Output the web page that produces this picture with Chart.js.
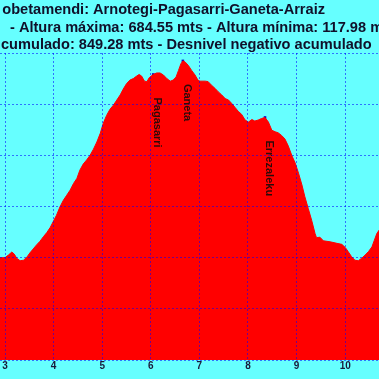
<!DOCTYPE html>
<html><head><meta charset="utf-8">
<script src="https://cdn.jsdelivr.net/npm/chart.js@4.4.0/dist/chart.umd.min.js"></script>
<style>html,body{margin:0;padding:0;background:#66ffff;overflow:hidden}#wrap{position:relative;width:379px;height:379px}</style>
</head><body><div id="wrap"><canvas id="c" width="379" height="379"></canvas></div>
<script>
// profile: distance (km) and elevation (m)
const distKm = [2.88,2.90,3.00,3.07,3.14,3.19,3.24,3.31,3.38,3.45,3.51,3.58,3.65,3.72,3.79,3.86,3.93,3.99,4.06,4.13,4.20,4.27,4.34,4.41,4.48,4.54,4.61,4.68,4.75,4.82,4.89,4.96,5.02,5.09,5.16,5.23,5.30,5.37,5.43,5.50,5.57,5.64,5.71,5.76,5.81,5.87,5.92,5.97,6.05,6.12,6.19,6.26,6.33,6.40,6.46,6.52,6.57,6.62,6.66,6.70,6.77,6.84,6.91,6.97,7.01,7.12,7.18,7.25,7.32,7.39,7.46,7.53,7.60,7.67,7.73,7.80,7.87,7.94,8.01,8.08,8.14,8.21,8.28,8.35,8.42,8.49,8.56,8.62,8.69,8.76,8.83,8.90,8.97,9.04,9.11,9.17,9.24,9.31,9.38,9.41,9.48,9.55,9.69,9.83,9.93,10.00,10.06,10.13,10.20,10.27,10.34,10.41,10.48,10.55,10.60,10.65,10.70,10.75];
const elevM = [300,300,300,305,311,307,299,294,295,301,309,317,325,332,341,349,359,370,383,399,412,422,432,445,455,471,483,491,500,512,526,543,562,578,590,598,608,618,629,640,647,650,655,658,655,645,644,652,658,661,661,657,650,645,647,653,666,679,684.55,683,676,666,657,647,645,645,644,637,631,624,618,611,608,601,594,586,580,569,565,570,567,569,572,574,565,549,546,544,539,532,518,500,485,465,442,419,396,373,347,339,340,333,331,328,326,320,312,302,295,294,299,305,312,321,334,347,354,362];
// named summits
const peakNames = ["Pagasarri","Ganeta","Errezaleku"];
const peakKm = [6.05,6.66,8.35];
const peakElev = [658,684.55,574];
// axis ticks
const xTicks = [3,4,5,6,7,8,9,10];
const yTicks = [100,200,300,400,500,600,700];
// title lines (cropped in the picture)
const titleLines = [
  "obetamendi: Arnotegi-Pagasarri-Ganeta-Arraiz",
  "- Altura máxima: 684.55 mts - Altura mínima: 117.98 mts",
  "cumulado: 849.28 mts - Desnivel negativo acumulado"
];

const FONT = '"Liberation Sans", Arial, sans-serif';
const gridCol = 'rgba(0,0,255,0.55)';

const bgPlugin = {
  id:'bg',
  beforeDraw(chart){
    const c = chart.ctx; c.save(); c.fillStyle='#66ffff';
    c.fillRect(0,0,chart.width,chart.height); c.restore();
  }
};
const textPlugin = {
  id:'texts',
  afterDraw(chart){
    const c = chart.ctx;
    c.save();
    c.fillStyle = '#10102a';
    c.font = 'bold 14.6px ' + FONT;
    c.textBaseline = 'alphabetic';
    c.textAlign = 'right'; c.fillText(titleLines[0], 325, 13.5);
    c.textAlign = 'left';  c.fillText(titleLines[1], 10, 31.5);
    c.fillText(titleLines[2], 1, 49.3);
    // summit labels
    const xs = chart.scales.x, ys = chart.scales.y;
    c.fillStyle = '#2a0a0a';
    c.font = 'bold 11px ' + FONT;
    c.textAlign = 'left'; c.textBaseline = 'middle';
    for (let i=0;i<peakNames.length;i++){
      const px = xs.getPixelForValue(peakKm[i]);
      const py = ys.getPixelForValue(peakElev[i]);
      c.save();
      c.translate(px+4, py+23);
      c.rotate(Math.PI/2);
      c.fillText(peakNames[i], 0, 0);
      c.restore();
    }
    c.restore();
  }
};

new Chart(document.getElementById('c'), {
  type:'line',
  data:{
    datasets:[
      {
        data: distKm.map((d,i)=>({x:d,y:elevM[i]})),
        borderColor:'#ff0000', borderWidth:1, backgroundColor:'#ff0000',
        fill:'start', pointRadius:0, tension:0
      },
      {
        data: peakKm.map((d,i)=>({x:d,y:peakElev[i]})),
        showLine:false, fill:false, pointStyle:'rect', pointRadius:1.8,
        pointBackgroundColor:'#0000cc', pointBorderWidth:0
      }
    ]
  },
  options:{
    responsive:false, animation:false, devicePixelRatio:1,
    layout:{autoPadding:false, padding:{left:0,right:0,top:53,bottom:7}},
    plugins:{legend:{display:false},tooltip:{enabled:false},title:{display:false}},
    scales:{
      x:{
        type:'linear', min:2.8971, max:10.6955,
        afterBuildTicks:s=>{ s.ticks = xTicks.map(v=>({value:v})); },
        ticks:{padding:0, color:'#1a1a3a', font:{family:FONT, size:10, weight:'bold'}, autoSkip:false, maxRotation:0, callback:v=>String(v)},
        grid:{color:gridCol, lineWidth:1, drawTicks:false, z:1},
        border:{display:false, dash:[2,2]}
      },
      y:{
        type:'linear', min:100, max:700,
        afterBuildTicks:s=>{ s.ticks = yTicks.map(v=>({value:v})); },
        afterFit:s=>{ s.width = 0; },
        ticks:{display:false},
        grid:{color:gridCol, lineWidth:1, drawTicks:false, z:1},
        border:{display:false, dash:[2,2]}
      }
    }
  },
  plugins:[bgPlugin, textPlugin]
});
</script></body></html>
